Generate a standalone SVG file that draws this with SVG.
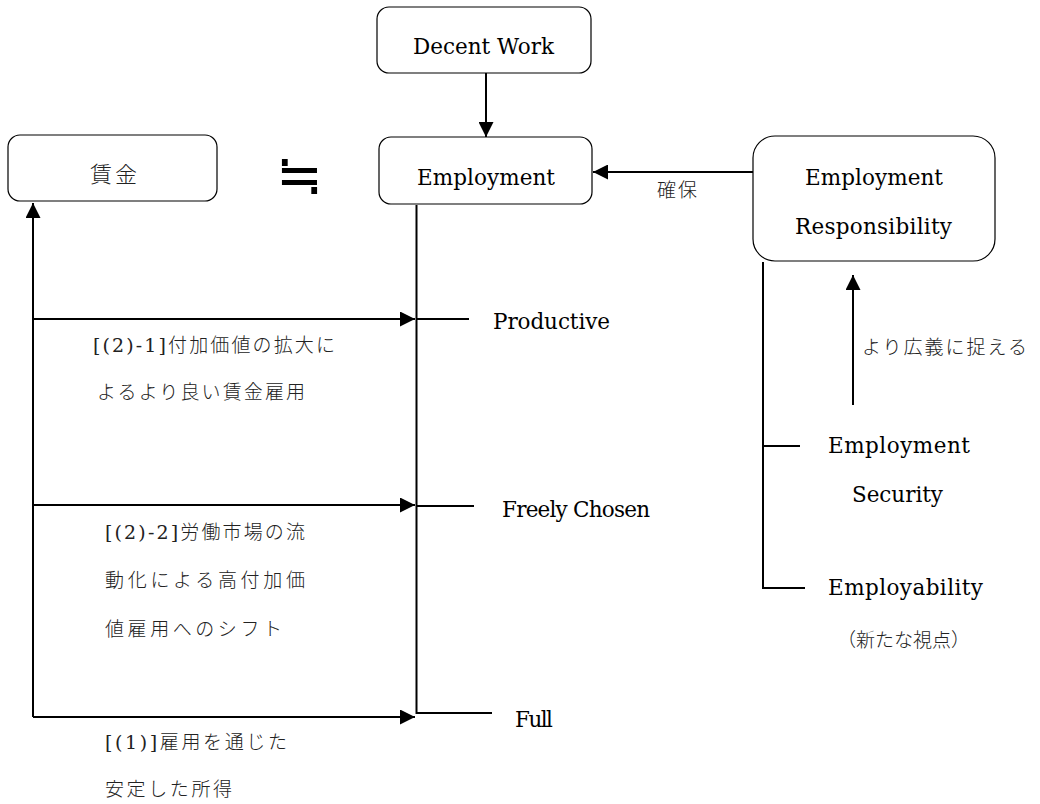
<svg xmlns="http://www.w3.org/2000/svg" width="1040" height="804" viewBox="0 0 1040 804">
  <style>
    .box { fill: #fff; stroke: #000; stroke-width: 1.2; }
    .ln { stroke: #000; stroke-width: 2; fill: none; }
    .arr { stroke: #000; stroke-width: 2; fill: none; marker-end: url(#head); }
    .en { font-family: "DejaVu Serif", "Liberation Serif", serif; font-size: 21.5px; fill: #000; }
    .jp { font-family: "Noto Sans CJK JP", sans-serif; font-size: 19px; font-weight: 300; fill: #222; }
    .sr { font-family: "DejaVu Serif", "Liberation Serif", serif; font-weight: normal; }
    .sym { font-family: "DejaVu Sans", sans-serif; font-size: 56px; font-weight: 200; fill: #000; }
  </style>
  <defs>
    <marker id="head" markerUnits="userSpaceOnUse" markerWidth="15" markerHeight="15" viewBox="0 0 15 15" refX="15" refY="7.5" orient="auto">
      <path d="M0,0 L15,7.5 L0,15 Z" fill="#000"/>
    </marker>
  </defs>

  <!-- connectors -->
  <g id="connectors">
    <!-- Decent Work down to Employment -->
    <line class="arr" x1="486" y1="73" x2="486" y2="137"/>
    <!-- Employment Responsibility to Employment -->
    <line class="arr" x1="753" y1="172" x2="593" y2="172"/>
    <!-- wage feedback spine -->
    <line class="arr" x1="33" y1="717" x2="33" y2="203"/>
    <line class="arr" x1="33" y1="319" x2="415" y2="319"/>
    <line class="arr" x1="33" y1="505" x2="415" y2="505"/>
    <line class="arr" x1="33" y1="717" x2="415" y2="717"/>
    <!-- Employment attribute tree -->
    <polyline class="ln" points="416.5,205 416.5,713 492,713"/>
    <line class="ln" x1="416.5" y1="319" x2="469" y2="319"/>
    <line class="ln" x1="416.5" y1="506" x2="474" y2="506"/>
    <!-- Employment Responsibility tree -->
    <polyline class="ln" points="763,262 763,588 805,588"/>
    <line class="ln" x1="763" y1="446" x2="800" y2="446"/>
    <line class="arr" x1="853" y1="405" x2="853" y2="275"/>
  </g>

  <!-- nodes -->
  <g id="decent-work">
    <rect class="box" x="377" y="7" width="214" height="66" rx="12"/>
    <text class="en" x="413" y="54" textLength="141" lengthAdjust="spacing">Decent Work</text>
  </g>

  <g id="employment">
    <rect class="box" x="379" y="137" width="213" height="67" rx="12"/>
    <text class="en" x="417" y="185" textLength="138" lengthAdjust="spacing">Employment</text>
  </g>

  <g id="wage">
    <rect class="box" x="8" y="135" width="209" height="66" rx="12"/>
    <text class="jp" x="90" y="182" style="font-size:22px" textLength="47" lengthAdjust="spacing">賃金</text>
  </g>

  <g id="approx">
    <text class="sym" x="299.5" y="194" text-anchor="middle">≒</text>
  </g>

  <g id="employment-responsibility">
    <rect class="box" x="753" y="136" width="242" height="125" rx="22"/>
    <text class="en" x="805" y="185" textLength="138" lengthAdjust="spacing">Employment</text>
    <text class="en" x="795" y="234" textLength="157" lengthAdjust="spacing">Responsibility</text>
  </g>

  <g id="label-secure">
    <text class="jp" x="657" y="197" textLength="40" lengthAdjust="spacing">確保</text>
  </g>

  <g id="productive">
    <text class="en" x="493" y="329" textLength="117" lengthAdjust="spacing">Productive</text>
  </g>
  <g id="freely-chosen">
    <text class="en" x="502" y="517" textLength="148" lengthAdjust="spacing">Freely Chosen</text>
  </g>
  <g id="full">
    <text class="en" x="515" y="727" textLength="38" lengthAdjust="spacing">Full</text>
  </g>

  <g id="label-2-1">
    <text class="jp" x="93" y="352" textLength="242" lengthAdjust="spacing"><tspan class="sr">[(2)-1]</tspan>付加価値の拡大に</text>
    <text class="jp" x="97" y="399" textLength="208" lengthAdjust="spacing">よるより良い賃金雇用</text>
  </g>

  <g id="label-2-2">
    <text class="jp" x="105" y="539" textLength="200" lengthAdjust="spacing"><tspan class="sr">[(2)-2]</tspan>労働市場の流</text>
    <text class="jp" x="105" y="587" textLength="200" lengthAdjust="spacing">動化による高付加価</text>
    <text class="jp" x="105" y="636" textLength="177" lengthAdjust="spacing">値雇用へのシフト</text>
  </g>

  <g id="label-1">
    <text class="jp" x="105" y="749" textLength="182" lengthAdjust="spacing"><tspan class="sr">[(1)]</tspan>雇用を通じた</text>
    <text class="jp" x="105" y="796" textLength="127" lengthAdjust="spacing">安定した所得</text>
  </g>

  <g id="label-broader">
    <text class="jp" x="862" y="354" textLength="165" lengthAdjust="spacing">より広義に捉える</text>
  </g>

  <g id="employment-security">
    <text class="en" x="828" y="453" textLength="142" lengthAdjust="spacing">Employment</text>
    <text class="en" x="852" y="502" textLength="91" lengthAdjust="spacing">Security</text>
  </g>

  <g id="employability">
    <text class="en" x="828" y="595" textLength="155" lengthAdjust="spacing">Employability</text>
    <text class="jp" x="837" y="647" textLength="133" lengthAdjust="spacing">（新たな視点）</text>
  </g>
</svg>
